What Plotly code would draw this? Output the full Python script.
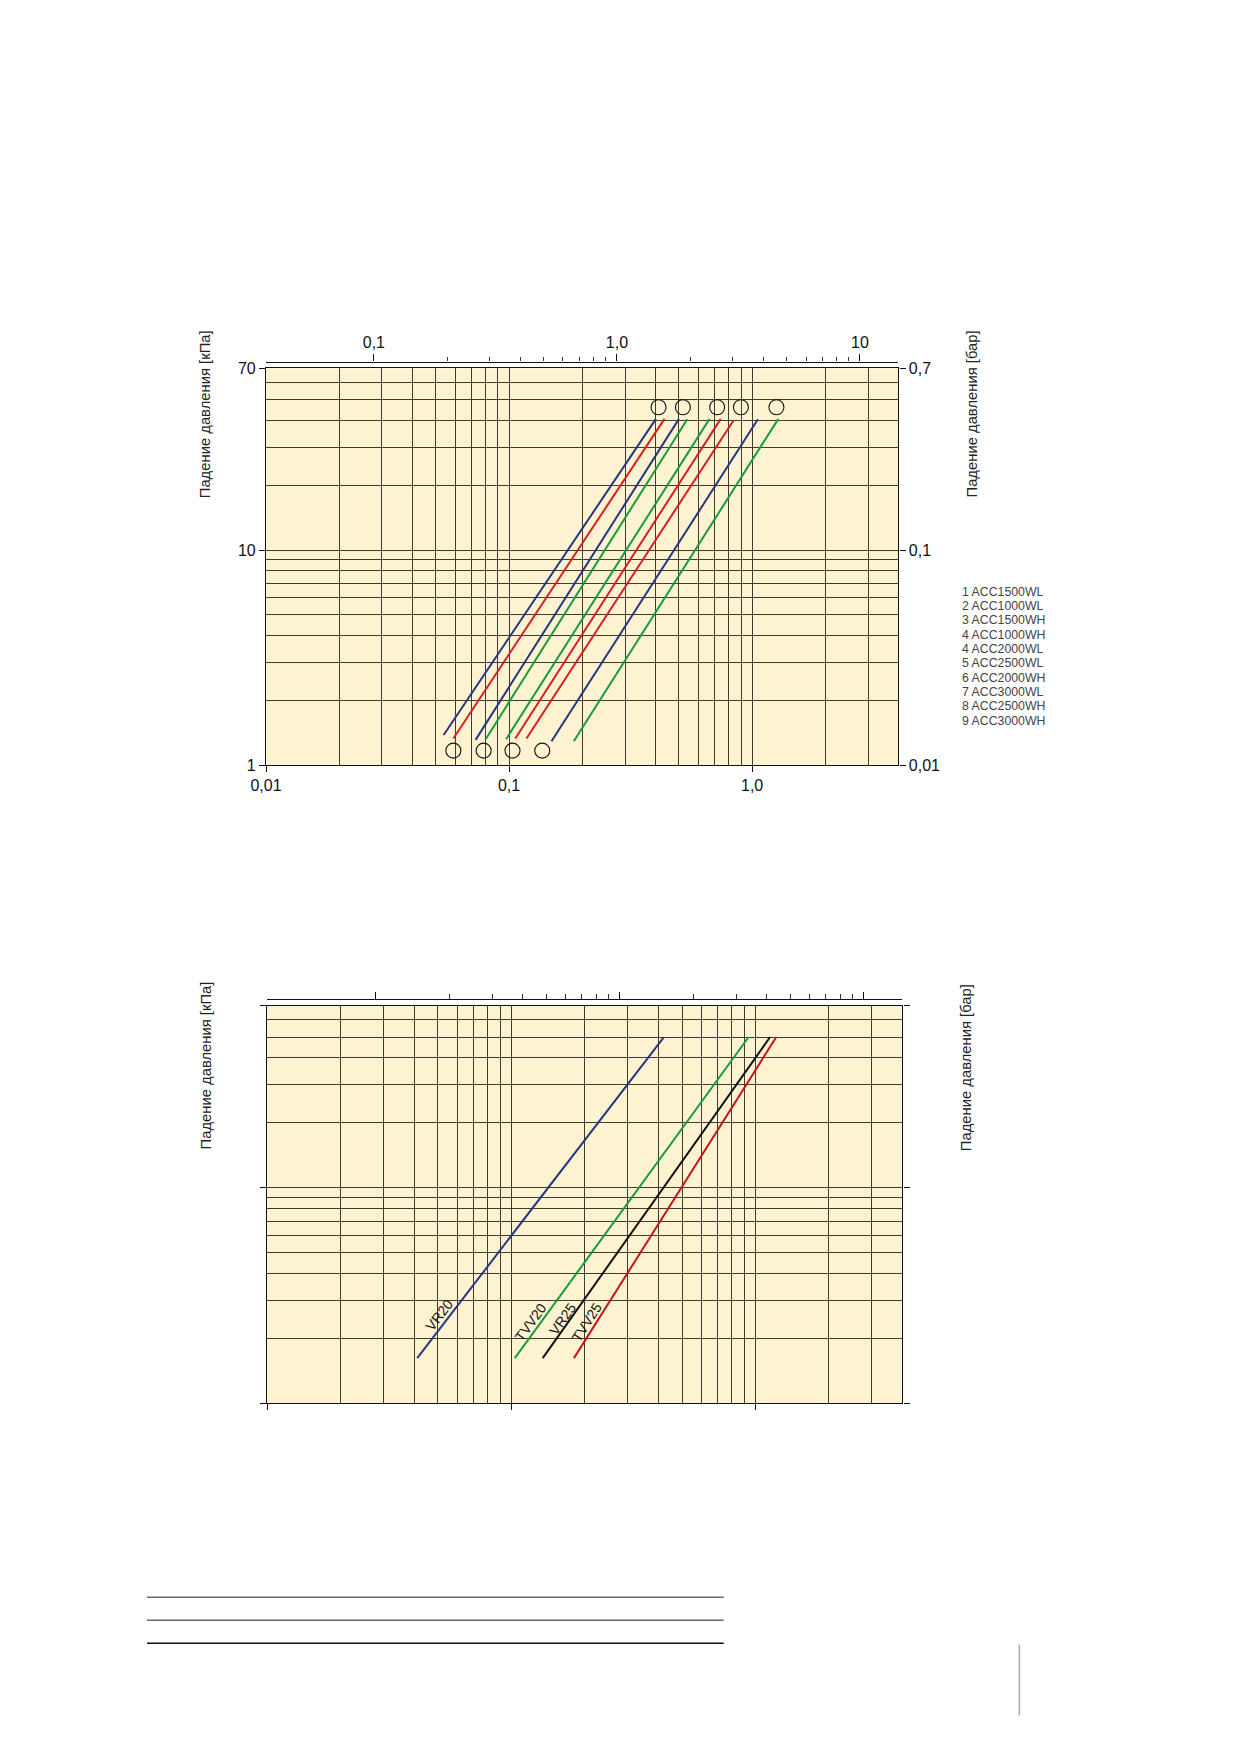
import math
import plotly.graph_objects as go

W, H = 1239, 1752
FONT = "Liberation Sans, Arial, sans-serif"

NAVY = "#28367f"
RED = "#d81e24"
GREEN = "#199a3e"
DARKRED = "#c4161c"
BLACK = "#111111"

# ---------------- data: chart 1 (flow [l/s] vs pressure drop [kPa]) ----------------
C1_Q_LOW = [0.0538, 0.0590, 0.0728, 0.0801, 0.0972, 0.1061, 0.1179, 0.1495, 0.1846]
C1_Q_HIGH = [0.402, 0.436, 0.500, 0.541, 0.668, 0.743, 0.837, 1.056, 1.282]
C1_DP_LOW = [1.38, 1.33, 1.31, 1.32, 1.32, 1.33, 1.33, 1.29, 1.29]
C1_DP_HIGH = [40.8, 40.8, 40.8, 40.6, 40.8, 40.8, 40.0, 40.6, 40.8]
C1_COLORS = [NAVY, RED, NAVY, GREEN, GREEN, RED, RED, NAVY, GREEN]

C1_MARK_TOP_Q = [0.412, 0.519, 0.718, 0.899, 1.259]
C1_MARK_TOP_DP = [46.2, 46.2, 46.2, 46.2, 46.2]
C1_MARK_BOT_Q = [0.0590, 0.0786, 0.1033, 0.1369]
C1_MARK_BOT_DP = [1.167, 1.167, 1.167, 1.167]

LEGEND_ITEMS = ["1 ACC1500WL", "2 ACC1000WL", "3 ACC1500WH", "4 ACC1000WH", "4 ACC2000WL",
                "5 ACC2500WL", "6 ACC2000WH", "7 ACC3000WL", "8 ACC2500WH", "9 ACC3000WH"]

# ---------------- data: chart 2 ----------------
C2_NAMES = ["VR20", "TVV20", "VR25", "TVV25"]
C2_Q_LOW = [0.0411, 0.1032, 0.1343, 0.1803]
C2_Q_HIGH = [0.4215, 0.938, 1.148, 1.217]
C2_DP_LOW = [1.62, 1.62, 1.62, 1.62]
C2_DP_HIGH = [50.0, 50.0, 50.0, 50.0]
C2_COLORS = [NAVY, GREEN, BLACK, DARKRED]

# ---------------- axes ----------------
X_RANGE = [0.01, 4.0]            # l/s
Y_RANGE = [1.0, 70.0]            # kPa
M3H_PER_LS = 3.6                 # top axis m3/h
BAR_PER_KPA = 0.01               # right axis bar

X_TICKS = [0.01, 0.1, 1.0]
X_TICKTEXT = ["0,01", "0,1", "1,0"]
X_GRID = [0.02, 0.03, 0.04, 0.05, 0.06, 0.07, 0.08, 0.09,
          0.2, 0.3, 0.4, 0.5, 0.6, 0.7, 0.8, 0.9, 2, 3]
TOP_TICKS = [0.1, 1.0, 10.0]
TOP_TICKTEXT = ["0,1", "1,0", "10"]
TOP_MINOR = [0.2, 0.3, 0.4, 0.5, 0.6, 0.7, 0.8, 0.9, 2, 3, 4, 5, 6, 7, 8, 9]
Y_TICKS = [1, 10, 70]
Y_TICKTEXT = ["1", "10", "70"]
Y_GRID = [2, 3, 4, 5, 6, 7, 8, 9, 20, 30, 40, 50, 60]
YR_TICKS = [0.01, 0.1, 0.7]
YR_TICKTEXT = ["0,01", "0,1", "0,7"]

Y_TITLE_L = "Падение давления [кПа]"
Y_TITLE_R = "Падение давления [бар]"

# ---------------- layout geometry (pixels) ----------------
C1 = dict(l=253.3, r=894.0, t=364.0, b=764.5, top_axis=357.0)
C2 = dict(l=254.7, r=898.0, t=1007.3, b=1409.0, top_axis=1000.7)

GRID_COLOR = "#3f3b30"
PLOT_BG = "#fef3d1"


def px(x):
    return x / W


def py(y):
    return 1 - y / H


def lg(v):
    return math.log10(v)


fig = go.Figure()


def add_chart(ix, geom, labels):
    xb = "x" if ix == 0 else "x3"
    xt = "x2" if ix == 0 else "x4"
    yl = "y" if ix == 0 else "y3"
    yr = "y2" if ix == 0 else "y4"
    kb = "xaxis" if ix == 0 else "xaxis3"
    kt = "xaxis2" if ix == 0 else "xaxis4"
    kl = "yaxis" if ix == 0 else "yaxis3"
    kr = "yaxis2" if ix == 0 else "yaxis4"
    tickfont = dict(family=FONT, size=16, color="#111")
    common = dict(type="log", showline=True, linecolor="#111", linewidth=1.3,
                  ticks="outside", ticklen=6, tickwidth=1.1, tickcolor="#111",
                  zeroline=False, tickfont=tickfont, showticklabels=labels)
    xdom = [px(geom["l"]), px(geom["r"])]
    ydom = [py(geom["b"]), py(geom["t"])]
    fig.update_layout(**{
        kb: dict(common, domain=xdom, anchor=yl,
                 range=[lg(X_RANGE[0]), lg(X_RANGE[1])],
                 tickmode="array", tickvals=X_TICKS, ticktext=X_TICKTEXT,
                 showgrid=True, gridcolor=GRID_COLOR, gridwidth=0.8, mirror=True,
                 minor=dict(tickmode="array", tickvals=X_GRID, showgrid=True,
                            gridcolor=GRID_COLOR, gridwidth=0.8, ticks="")),
        kt: dict(common, overlaying=xb, side="top", anchor="free",
                 position=py(geom["top_axis"]),
                 range=[lg(X_RANGE[0] * M3H_PER_LS), lg(X_RANGE[1] * M3H_PER_LS)],
                 tickmode="array", tickvals=TOP_TICKS, ticktext=TOP_TICKTEXT,
                 ticklen=7, showgrid=False,
                 minor=dict(tickmode="array", tickvals=TOP_MINOR, ticks="outside",
                            ticklen=4.5, tickwidth=0.9, tickcolor="#333", showgrid=False)),
        kl: dict(common, domain=ydom, anchor=xb,
                 range=[lg(Y_RANGE[0]), lg(Y_RANGE[1])],
                 tickmode="array", tickvals=Y_TICKS, ticktext=Y_TICKTEXT,
                 showgrid=True, gridcolor=GRID_COLOR, gridwidth=0.8,
                 minor=dict(tickmode="array", tickvals=Y_GRID, showgrid=True,
                            gridcolor=GRID_COLOR, gridwidth=0.8, ticks="")),
        kr: dict(common, overlaying=yl, side="right", anchor=xb,
                 range=[lg(Y_RANGE[0] * BAR_PER_KPA), lg(Y_RANGE[1] * BAR_PER_KPA)],
                 tickmode="array", tickvals=YR_TICKS, ticktext=YR_TICKTEXT,
                 showgrid=False),
    })
    # invisible helper traces so the overlay axes are drawn
    fig.add_trace(go.Scatter(x=[1], y=[10], xaxis=xt, yaxis=yl, mode="markers",
                             marker=dict(opacity=0), showlegend=False, hoverinfo="skip"))
    fig.add_trace(go.Scatter(x=[0.1], y=[0.1], xaxis=xb, yaxis=yr, mode="markers",
                             marker=dict(opacity=0), showlegend=False, hoverinfo="skip"))
    return xb, yl


# ---- chart 1 ----
xa, ya = add_chart(0, C1, True)
for qlo, qhi, dlo, dhi, col in zip(C1_Q_LOW, C1_Q_HIGH, C1_DP_LOW, C1_DP_HIGH, C1_COLORS):
    fig.add_trace(go.Scatter(x=[qlo, qhi], y=[dlo, dhi], mode="lines", xaxis=xa, yaxis=ya,
                             line=dict(color=col, width=2), showlegend=False))
fig.add_trace(go.Scatter(x=C1_MARK_TOP_Q + C1_MARK_BOT_Q, y=C1_MARK_TOP_DP + C1_MARK_BOT_DP,
                         mode="markers", xaxis=xa, yaxis=ya, showlegend=False,
                         marker=dict(symbol="circle-open", size=15, color="#111",
                                     line=dict(width=1.1, color="#111"))))

# ---- chart 2 ----
xa2, ya2 = add_chart(1, C2, False)
for qlo, qhi, dlo, dhi, col in zip(C2_Q_LOW, C2_Q_HIGH, C2_DP_LOW, C2_DP_HIGH, C2_COLORS):
    fig.add_trace(go.Scatter(x=[qlo, qhi], y=[dlo, dhi], mode="lines", xaxis=xa2, yaxis=ya2,
                             line=dict(color=col, width=2), showlegend=False))

# line labels for chart 2 (placed along each line, slightly up-left)
LABEL_ALONG_PX = [48, 39, 44, 38]
LABEL_OFFSET_PX = [8.5, 8.5, 6.5, 8.5]
ppd_x = (C2["r"] - C2["l"]) / (lg(X_RANGE[1]) - lg(X_RANGE[0]))
ppd_y = (C2["b"] - C2["t"]) / (lg(Y_RANGE[1]) - lg(Y_RANGE[0]))
annotations = []
for name, qlo, qhi, dlo, dhi, along, off in zip(C2_NAMES, C2_Q_LOW, C2_Q_HIGH, C2_DP_LOW,
                                                C2_DP_HIGH, LABEL_ALONG_PX, LABEL_OFFSET_PX):
    dx = (lg(qhi) - lg(qlo)) * ppd_x
    dy = (lg(dhi) - lg(dlo)) * ppd_y
    length = math.hypot(dx, dy)
    t = along / length
    ang = math.atan2(dy, dx)
    annotations.append(dict(
        x=lg(qlo) + t * (lg(qhi) - lg(qlo)), y=lg(dlo) + t * (lg(dhi) - lg(dlo)),
        xref="x3", yref="y3", text=name, showarrow=False,
        textangle=-math.degrees(ang), xanchor="center", yanchor="middle",
        xshift=-off * math.sin(ang), yshift=off * math.cos(ang),
        font=dict(family=FONT, size=14, color="#111")))

# axis titles
for (x, y, txt) in [(191.7, 410, Y_TITLE_L), (969, 410, Y_TITLE_R),
                    (192.3, 1068, Y_TITLE_L), (962, 1070, Y_TITLE_R)]:
    annotations.append(dict(x=px(x), y=py(y), xref="paper", yref="paper", text=txt,
                            showarrow=False, textangle=-90, xanchor="center", yanchor="middle",
                            font=dict(family=FONT, size=14.8, color="#222")))

# legend text list
for i, item in enumerate(LEGEND_ITEMS):
    annotations.append(dict(x=px(956), y=py(589.3 + 14.5 * i), xref="paper", yref="paper",
                            text=item, showarrow=False, xanchor="left", yanchor="middle",
                            font=dict(family=FONT, size=12.3, color="#444")))

# decorative page lines
shapes = []
for yy, col in [(1604.7, "#6a6a6a"), (1628, "#6a6a6a"), (1651.3, "#111")]:
    shapes.append(dict(type="line", xref="paper", yref="paper", x0=px(132.7), x1=px(717),
                       y0=py(yy), y1=py(yy), line=dict(color=col, width=1.5)))
shapes.append(dict(type="line", xref="paper", yref="paper", x0=px(1016.5), x1=px(1016.5),
                   y0=py(1652.7), y1=py(1724), line=dict(color="#a8a8a8", width=1.5)))

fig.update_layout(width=W, height=H, margin=dict(l=0, r=0, t=0, b=0),
                  paper_bgcolor="white", plot_bgcolor=PLOT_BG, showlegend=False,
                  annotations=annotations, shapes=shapes,
                  font=dict(family=FONT, color="#111"))

fig.write_html("out.html", config={"displayModeBar": False},
               post_script="document.body.style.margin='0px';")
